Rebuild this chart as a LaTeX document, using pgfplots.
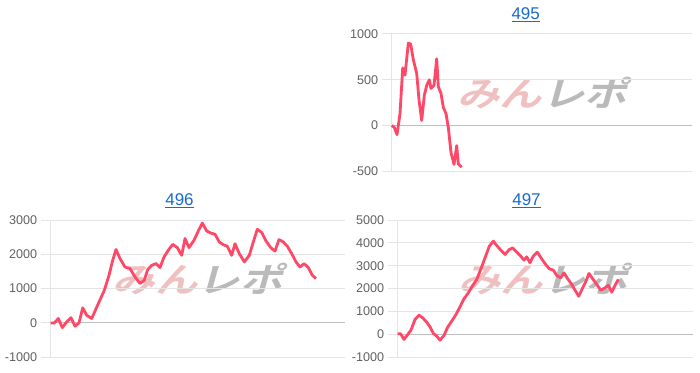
\documentclass[border=0pt]{standalone}
\usepackage{fontspec}
\setmainfont{Liberation Sans}
\newfontfamily\cjk[FakeSlant=0.22, BoldFont={* Bold}, BoldFeatures={FakeSlant=0.22}]{Noto Sans CJK JP}
\usepackage{pgfplots}
\pgfplotsset{compat=1.18}
\definecolor{linec}{RGB}{255,72,104}
\definecolor{gridc}{RGB}{228,228,228}
\definecolor{zeroc}{RGB}{190,190,190}
\definecolor{tickc}{RGB}{96,96,96}
\definecolor{titlec}{RGB}{25,105,210}
\definecolor{wmpink}{RGB}{240,192,192}
\definecolor{wmgray}{RGB}{186,186,186}
\pgfplotsset{
  panel/.style={
    scale only axis, height=137.3pt, anchor=south west,
    axis x line=none, axis y line*=left,
    y axis line style={draw=gridc, line width=1pt},
    xmin=0,
    ymajorgrids, grid style={draw=gridc, line width=1pt},
    tick align=outside, major tick length=10pt,
    ytick style={draw=gridc, line width=1pt},
    tick label style={font=\fontsize{12.6}{14}\selectfont, text=tickc},
    /pgf/number format/assume math mode=true,
    /pgf/number format/1000 sep={},
    extra y ticks={0}, extra y tick labels={},
    extra y tick style={grid style={draw=zeroc, line width=1pt}, tick style={draw=zeroc}},
    clip=false,
  },
  ser/.style={color=linec, line width=2.8pt, line join=round, no marks},
}
\newcommand{\wm}{{\cjk\bfseries\fontsize{34}{36}\selectfont\textcolor{wmpink}{みん}\textcolor{wmgray}{レポ}}}
\begin{document}
\begin{tikzpicture}[x=1pt,y=1pt]
\useasboundingbox (0,0) rectangle (700,372);
% watermarks
\node[xscale=1.25, inner sep=0] at (542,278.5) {\wm};
\node[xscale=1.25, inner sep=0] at (197.5,93) {\wm};
\node[xscale=1.25, inner sep=0] at (543.3,93) {\wm};
% titles
\node[text=titlec, font=\fontsize{17}{19}\selectfont] at (525.7,357) {\underline{495}};
\node[text=titlec, font=\fontsize{17}{19}\selectfont] at (179.5,171) {\underline{496}};
\node[text=titlec, font=\fontsize{17}{19}\selectfont] at (526.5,171) {\underline{497}};

\begin{axis}[panel, at={(391.7pt,200.7pt)}, width=300pt, xmax=300,
  ymin=-500, ymax=1000, ytick={-500,0,500,1000}]
\addplot[ser] coordinates {(0,0) (2.6,-20) (5.3,-100) (8.3,130) (11,630) (13.3,550) (16.6,900) (19,890) (21.6,720) (25,570) (27.3,280) (30,55) (32.6,330) (35,440) (37.6,500) (39.3,405) (42.3,440) (45,730) (46.6,425) (49.3,350) (51.6,200) (54.3,130) (56.6,-20) (59.3,-295) (62.3,-425) (65,-220) (66.6,-420) (70,-455)};
\end{axis}

\begin{axis}[panel, at={(50.7pt,14.7pt)}, width=294.3pt, xmax=294.3,
  ymin=-1000, ymax=3000, ytick={-1000,0,1000,2000,3000}]
\addplot[ser] coordinates {(0,0) (3.6,0) (7.6,130) (11.6,-135) (16,30) (20.3,155) (24.3,-95) (28.3,0) (32,440) (36,225) (41,130) (47.6,565) (53.6,950) (58.3,1390) (62,1825) (65.3,2140) (69.3,1875) (74.3,1630) (79.3,1585) (84.3,1340) (89.3,1150) (93.6,1245) (97,1555) (101,1680) (105.3,1730) (109.3,1615) (113.3,1920) (117.6,2120) (122,2290) (126.6,2195) (131,1970) (134.3,2460) (138.3,2195) (143.3,2410) (147.6,2680) (151.6,2910) (156,2680) (160,2620) (164.3,2585) (168.6,2360) (172.6,2280) (176.6,2235) (181,1970) (184.3,2310) (188.6,2020) (193.6,1780) (198.6,1970) (202.6,2360) (206.6,2730) (211,2635) (215.3,2390) (220,2195) (224.3,2095) (228.3,2430) (232.6,2360) (236.6,2235) (241,2020) (245.3,1780) (249.3,1630) (253.3,1730) (257.6,1615) (261.6,1390) (265.3,1295)};
\end{axis}

\begin{axis}[panel, at={(397.7pt,14.7pt)}, width=295pt, xmax=295,
  ymin=-1000, ymax=5000, ytick={-1000,0,1000,2000,3000,4000,5000}]
\addplot[ser] coordinates {(0,25) (3,25) (6.3,-220) (9.6,-30) (13.3,190) (17.3,655) (21.3,840) (25,725) (29,535) (32.3,330) (35.6,45) (39,-75) (42.3,-250) (46.3,-45) (49.6,290) (54,580) (58.3,875) (62.3,1205) (66.3,1555) (70.6,1815) (75,2140) (79,2400) (83,2840) (87.3,3345) (91.6,3855) (95.6,4075) (99.6,3855) (104,3640) (107.3,3495) (111.6,3710) (115,3780) (119,3595) (123,3420) (126.3,3245) (129,3390) (132.3,3130) (135.6,3420) (139.6,3595) (144,3300) (148,3055) (151.6,2865) (155.6,2810) (159,2580) (163,2470) (166.3,2690) (170,2430) (174,2185) (177.3,1935) (181,1670) (185,2035) (188.3,2330) (191.3,2665) (195,2430) (199,2185) (203,1935) (207.3,2035) (210.6,2140) (214,1845) (217.3,2140) (220.6,2400)};
\end{axis}
\end{tikzpicture}
\end{document}
